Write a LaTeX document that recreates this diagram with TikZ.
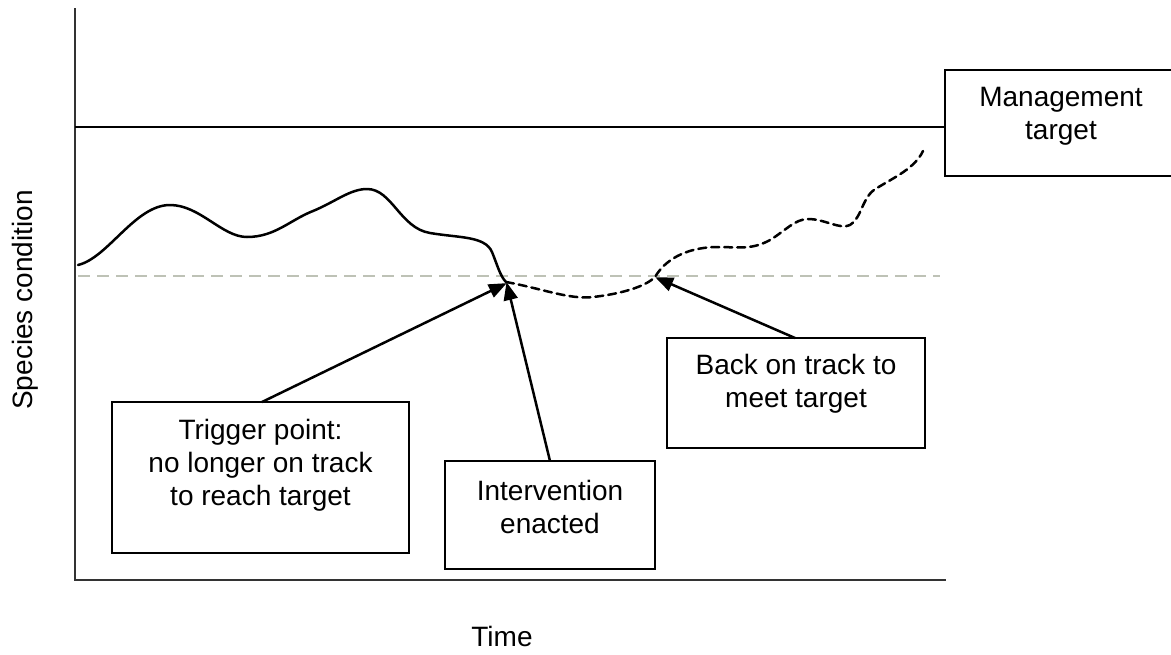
\documentclass[tikz,border=0pt]{standalone}
\usepackage{fontspec}
\setmainfont{Liberation Sans}
\usetikzlibrary{arrows.meta}
\begin{document}
\begin{tikzpicture}[x=1pt,y=-1pt,
  lbl/.style={font=\fontsize{28}{33}\selectfont, align=center, inner sep=0pt},
  labelbox/.style={draw=black, line width=2.5pt, fill=white},
  curve/.style={line width=2.5pt, line cap=round, line join=round},
  pointer/.style={line width=2.5pt, -{Triangle[length=18pt,width=14pt]}, shorten >=-2pt}]
\useasboundingbox (0,0) rectangle (1171,654);
% axes
\draw[line width=1.8pt, black!80] (75,8) -- (75,580) -- (946,580);
% management target line
\draw[line width=2.5pt] (75,127) -- (946,127);
% trigger threshold
\draw[line width=2.5pt, color={rgb,255:red,190;green,194;blue,182}, dash pattern=on 12pt off 7pt] (78,276) -- (940,276);
% observed condition
\draw[curve] (78,265) .. controls (108,258) and (135,205) .. (170,205)
  .. controls (200,205) and (222,237) .. (247,237)
  .. controls (275,237) and (290,220) .. (313,211)
  .. controls (335,202) and (350,189) .. (367,189)
  .. controls (392,189) and (400,228) .. (430,233)
  .. controls (460,238) and (485,236) .. (492,252)
  .. controls (497,264) and (500,276) .. (506,282);
% projected condition after intervention
\draw[curve, dash pattern=on 8pt off 5pt] (506,282) .. controls (540,288) and (570,300) .. (593,297)
  .. controls (620,294) and (645,287) .. (655,277)
  .. controls (665,260) and (685,248) .. (715,247)
  .. controls (740,247) and (752,250) .. (770,240)
  .. controls (785,231) and (795,219) .. (808,219)
  .. controls (825,219) and (840,230) .. (850,225)
  .. controls (862,218) and (862,196) .. (877,188)
  .. controls (895,177) and (915,168) .. (923,151);
\coordinate (trig) at (505,284);
\coordinate (back) at (657,278);
% boxes
\node[labelbox, minimum width=297pt, minimum height=151pt] (tbox) at (260.5,477.5) {};
\node[lbl] at (260.5,465) {Trigger point:\\no longer on track\\to reach target};
\node[labelbox, minimum width=210pt, minimum height=108pt] (ibox) at (550,515) {};
\node[lbl] at (550,507) {Intervention\\enacted};
\node[labelbox, minimum width=258pt, minimum height=110pt] (bbox) at (796,393) {};
\node[lbl] at (796,384) {Back on track to\\meet target};
\node[labelbox, minimum width=232pt, minimum height=106pt] (mbox) at (1061,123) {};
\node[lbl] at (1061,116) {Management\\target};
% pointers
\draw[pointer] (262,402) -- (trig);
\draw[pointer] (550,461) -- ([xshift=2pt]trig);
\draw[pointer] (795,338) -- (back);
% axis titles
\node[lbl, rotate=90] (ylab) at (25,300) {Species condition};
\node[lbl] (xlab) at (502,636) {Time};
\end{tikzpicture}
\end{document}
